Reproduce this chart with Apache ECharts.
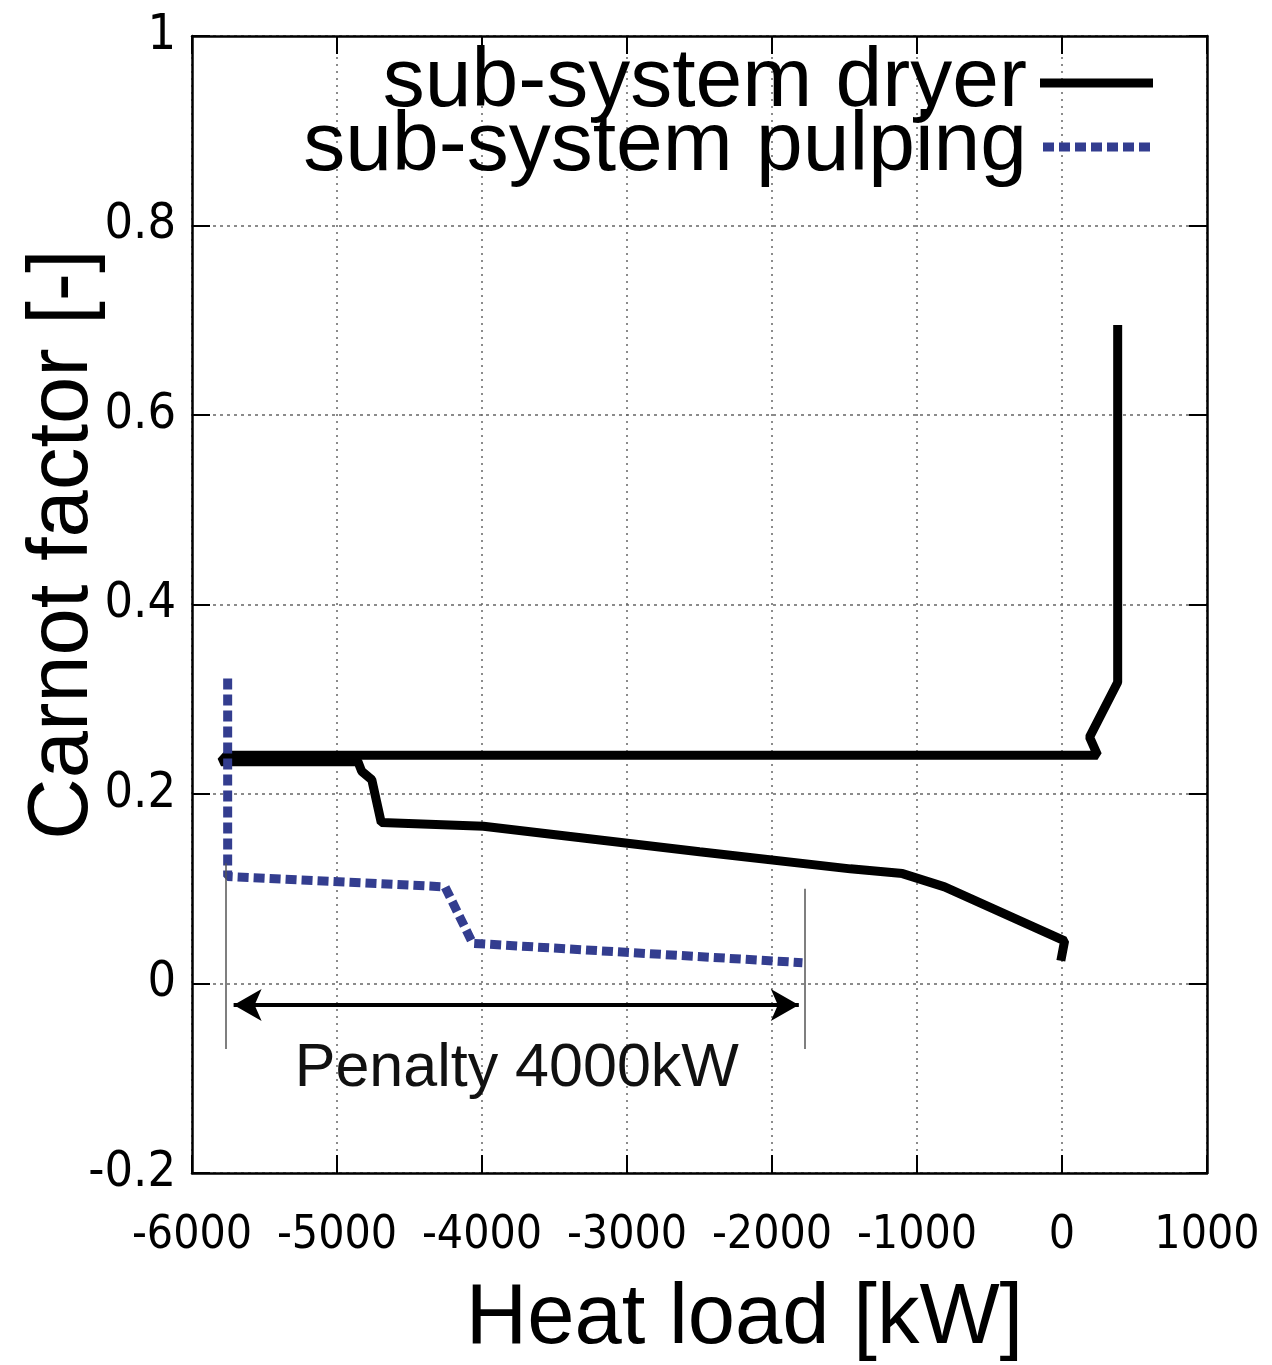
<!DOCTYPE html>
<html>
<head>
<meta charset="utf-8">
<script src="https://cdn.jsdelivr.net/npm/echarts@6.0.0/dist/echarts.min.js"></script>
<style>
  html, body { margin: 0; padding: 0; background: #fff; }
  #main { width: 1272px; height: 1365px; }
</style>
</head>
<body>
<div id="main"></div>
<script>
// data: [heat load kW, carnot factor]
var dryerLoad = [384, 384, 190, 245, -5760, -5800, -4855, -4830, -4760, -4695, -3990, -2500, -1460, -1100, -810, 18, -8];
var dryerCarnot = [0.695, 0.318, 0.26, 0.241, 0.241, 0.234, 0.234, 0.224, 0.215, 0.17, 0.166, 0.139, 0.121, 0.116, 0.102, 0.045, 0.024];
var pulpLoad = [-5754, -5754, -4255, -4064, -1790];
var pulpCarnot = [0.322, 0.113, 0.102, 0.0424, 0.022];
var seriesNames = ["sub-system dryer", "sub-system pulping"];
// penalty annotation
var penaltyFrom = -5713, penaltyTo = -1815, penaltyY = -0.0227;
var penaltyText = "Penalty 4000kW";

function zip(a, b) { return a.map(function (v, i) { return [v, b[i]]; }); }

var myChart = echarts.init(document.getElementById('main'));
var tickFont = "'Liberation Sans Narrow', 'DejaVu Sans Condensed', sans-serif";
var mainFont = "'Liberation Sans', Arial, sans-serif";

// legend icons: solid bar, and a row of squares for the dotted line
var solidIcon = 'path://M0,0 H113 V9 H0 Z';
var dotIcon = 'path://' + [0, 1, 2, 3, 4, 5, 6].map(function (i) {
  var x = i * 16;
  return 'M' + x + ',0 H' + (x + 11) + ' V9 H' + x + ' Z';
}).join(' ');

var option = {
  animation: false,
  grid: { left: 192, right: 65, top: 36, bottom: 192, containLabel: false, outerBoundsMode: 'none' },
  legend: {
    orient: 'vertical',
    right: 114,
    top: 35,
    align: 'right',
    itemWidth: 113,
    itemHeight: 9,
    itemGap: -22,
    data: [
      { name: seriesNames[0], icon: solidIcon, itemStyle: { color: '#000' } },
      { name: seriesNames[1], icon: dotIcon, itemStyle: { color: '#333d8f' } }
    ],
    textStyle: { fontSize: 84, fontFamily: mainFont, color: '#000', lineHeight: 86, padding: [0, 8, 0, 0] }
  },
  xAxis: [{
    type: 'value', min: -6000, max: 1000, interval: 1000,
    name: 'Heat load [kW]', nameLocation: 'middle', nameGap: 104, nameMoveOverlap: false,
    nameTextStyle: { fontSize: 85, fontFamily: mainFont, color: '#000', padding: [0, 0, 0, 90] },
    axisLine: { show: true, onZero: false, lineStyle: { color: '#000', width: 2.5 } },
    axisTick: { show: true, inside: true, length: 18, lineStyle: { color: '#000', width: 2 } },
    axisLabel: { fontSize: 46, fontFamily: tickFont, color: '#000', margin: 40, showMinLabel: true, showMaxLabel: true, hideOverlap: false,
      formatter: function (v) { return String(v); } },
    splitLine: { show: true, lineStyle: { color: '#666', width: 1.5, type: [2, 5] } }
  }, {
    type: 'value', min: -6000, max: 1000, interval: 1000, position: 'top',
    axisLine: { show: true, onZero: false, lineStyle: { color: '#000', width: 2.5 } },
    axisTick: { show: true, inside: true, length: 18, lineStyle: { color: '#000', width: 2 } },
    axisLabel: { show: false },
    splitLine: { show: false }
  }],
  yAxis: [{
    type: 'value', min: -0.2, max: 1, interval: 0.2,
    name: 'Carnot factor [-]', nameLocation: 'middle', nameGap: 86, nameRotate: 90, nameMoveOverlap: false,
    nameTextStyle: { fontSize: 85, fontFamily: mainFont, color: '#000', padding: [0, 0, 0, 120] },
    axisLine: { show: true, onZero: false, lineStyle: { color: '#000', width: 2.5 } },
    axisTick: { show: true, inside: true, length: 18, lineStyle: { color: '#000', width: 2 } },
    axisLabel: { fontSize: 50, fontFamily: tickFont, color: '#000', margin: 16,
      formatter: function (v) { return String(Math.round(v * 10) / 10); } },
    splitLine: { show: true, lineStyle: { color: '#666', width: 1.5, type: [3, 4] } }
  }, {
    type: 'value', min: -0.2, max: 1, interval: 0.2, position: 'right',
    axisLine: { show: true, onZero: false, lineStyle: { color: '#000', width: 2.5 } },
    axisTick: { show: true, inside: true, length: 18, lineStyle: { color: '#000', width: 2 } },
    axisLabel: { show: false },
    splitLine: { show: false }
  }],
  series: [{
    name: seriesNames[0],
    type: 'line',
    symbol: 'none',
    data: zip(dryerLoad, dryerCarnot),
    lineStyle: { color: '#000', width: 9, join: 'bevel' },
    itemStyle: { color: '#000' }
  }, {
    name: seriesNames[1],
    type: 'line',
    symbol: 'none',
    data: zip(pulpLoad, pulpCarnot),
    lineStyle: { color: '#333d8f', width: 9, type: [11, 5], cap: 'butt' },
    itemStyle: { color: '#333d8f' }
  }, {
    name: 'annotation',
    type: 'line',
    data: [],
    silent: true,
    markLine: {
      silent: true,
      animation: false,
      label: { show: false },
      symbol: ['none', 'none'],
      data: [
        [{ coord: [-5768, 0.127], lineStyle: { color: '#555', width: 1.5, type: 'solid' } }, { coord: [-5768, -0.069] }],
        [{ coord: [-1772, 0.1], lineStyle: { color: '#555', width: 1.5, type: 'solid' } }, { coord: [-1772, -0.069] }],
        [{ coord: [penaltyFrom, penaltyY], symbol: 'arrow', symbolSize: [24, 28], lineStyle: { color: '#000', width: 4, type: 'solid' } },
         { coord: [penaltyTo, penaltyY], symbol: 'arrow', symbolSize: [24, 28] }]
      ]
    },
    markPoint: {
      silent: true,
      symbolSize: 0,
      label: { show: true, position: 'inside', formatter: penaltyText, fontSize: 61, fontFamily: mainFont, color: '#111' },
      data: [{ coord: [-3760, -0.09] }]
    }
  }]
};

myChart.setOption(option);
window.addEventListener("resize", function () {
  myChart.resize();
});
</script>
</body>
</html>
